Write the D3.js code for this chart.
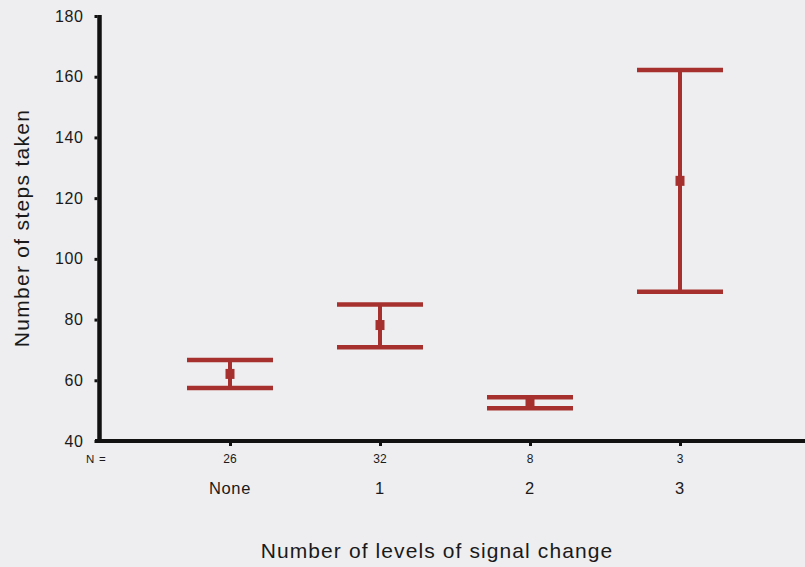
<!DOCTYPE html>
<html>
<head>
<meta charset="utf-8">
<script src="https://cdn.jsdelivr.net/npm/d3@7"></script>
<style>
  html, body { margin: 0; padding: 0; background: #eeeef0; }
  svg { display: block; }
  text { font-family: "Liberation Sans", Arial, Helvetica, sans-serif; fill: #1a1a1a; }
</style>
</head>
<body>
<svg id="chart" width="805" height="567"></svg>
<script>
// Mean number of steps with error bars, by number of signal-change levels
const categories = ["None", "1", "2", "3"];
const nCounts = [26, 32, 8, 3];
const means = [62.1, 78.2, 52.6, 125.7];
const lower = [57.5, 70.9, 50.8, 89.2];
const upper = [66.7, 85.0, 54.4, 162.2];
const yTicks = [40, 60, 80, 100, 120, 140, 160, 180];

const barColor = "#a6302e";
const axisColor = "#111";

const svg = d3.select("#chart");

const x = d3.scalePoint()
  .domain(categories)
  .range([155, 755])
  .padding(0.5);

const y = d3.scaleLinear()
  .domain([40, 180])
  .range([441, 16]);

// Y axis: tick labels and small tick marks
const yAxis = d3.axisLeft(y)
  .tickValues(yTicks)
  .tickSize(3)
  .tickPadding(11)
  .tickFormat(d3.format("d"));

const gy = svg.append("g")
  .attr("transform", "translate(97.5,0)")
  .call(yAxis);
gy.select(".domain").remove();
gy.selectAll(".tick line").attr("stroke", axisColor).attr("stroke-width", 3);
gy.selectAll(".tick text")
  .attr("font-size", 16)
  .attr("letter-spacing", 0.6)
  .attr("fill", "#1a1a1a")
  .style("font-family", "'Liberation Sans', Arial, sans-serif");

// Axis lines
svg.append("line")
  .attr("x1", 99.5).attr("x2", 99.5)
  .attr("y1", 15).attr("y2", 443)
  .attr("stroke", axisColor).attr("stroke-width", 4.5);

svg.append("line")
  .attr("x1", 95).attr("x2", 805)
  .attr("y1", y(40)).attr("y2", y(40))
  .attr("stroke", axisColor).attr("stroke-width", 4);

// X axis tick marks and labels
const xAxis = d3.axisBottom(x).tickSize(4).tickFormat("");
const gx = svg.append("g")
  .attr("transform", `translate(0,${y(40) + 1})`)
  .call(xAxis);
gx.select(".domain").remove();
gx.selectAll(".tick line").attr("stroke", axisColor).attr("stroke-width", 3);

// Sample sizes row
svg.append("text")
  .attr("x", 86).attr("y", 463)
  .attr("font-size", 11.5)
  .attr("letter-spacing", 0.8)
  .text("N =");

svg.selectAll(".ncount")
  .data(categories)
  .join("text")
  .attr("class", "ncount")
  .attr("x", d => x(d))
  .attr("y", 463)
  .attr("text-anchor", "middle")
  .attr("font-size", 12)
  .text((d, i) => nCounts[i]);

svg.selectAll(".catlabel")
  .data(categories)
  .join("text")
  .attr("class", "catlabel")
  .attr("x", d => x(d))
  .attr("y", 494)
  .attr("text-anchor", "middle")
  .attr("font-size", 16.5)
  .attr("letter-spacing", 0.6)
  .text(d => d);

// Axis titles
svg.append("text")
  .attr("x", 437)
  .attr("y", 558)
  .attr("text-anchor", "middle")
  .attr("font-size", 21)
  .attr("letter-spacing", 1.1)
  .text("Number of levels of signal change");

svg.append("text")
  .attr("transform", "translate(29,228) rotate(-90)")
  .attr("text-anchor", "middle")
  .attr("font-size", 21)
  .attr("letter-spacing", 1.3)
  .text("Number of steps taken");

// Error bars
const capHalf = 43;
const bars = svg.selectAll(".errbar")
  .data(categories)
  .join("g")
  .attr("class", "errbar");

bars.append("line")
  .attr("x1", d => x(d)).attr("x2", d => x(d))
  .attr("y1", (d, i) => y(upper[i]))
  .attr("y2", (d, i) => y(lower[i]))
  .attr("stroke", barColor).attr("stroke-width", 4);

bars.append("line")
  .attr("x1", d => x(d) - capHalf).attr("x2", d => x(d) + capHalf)
  .attr("y1", (d, i) => y(upper[i])).attr("y2", (d, i) => y(upper[i]))
  .attr("stroke", barColor).attr("stroke-width", 4.5);

bars.append("line")
  .attr("x1", d => x(d) - capHalf).attr("x2", d => x(d) + capHalf)
  .attr("y1", (d, i) => y(lower[i])).attr("y2", (d, i) => y(lower[i]))
  .attr("stroke", barColor).attr("stroke-width", 4.5);

bars.append("rect")
  .attr("x", d => x(d) - 4.5)
  .attr("y", (d, i) => y(means[i]) - 5)
  .attr("width", 9)
  .attr("height", 10)
  .attr("fill", barColor);
</script>
</body>
</html>
